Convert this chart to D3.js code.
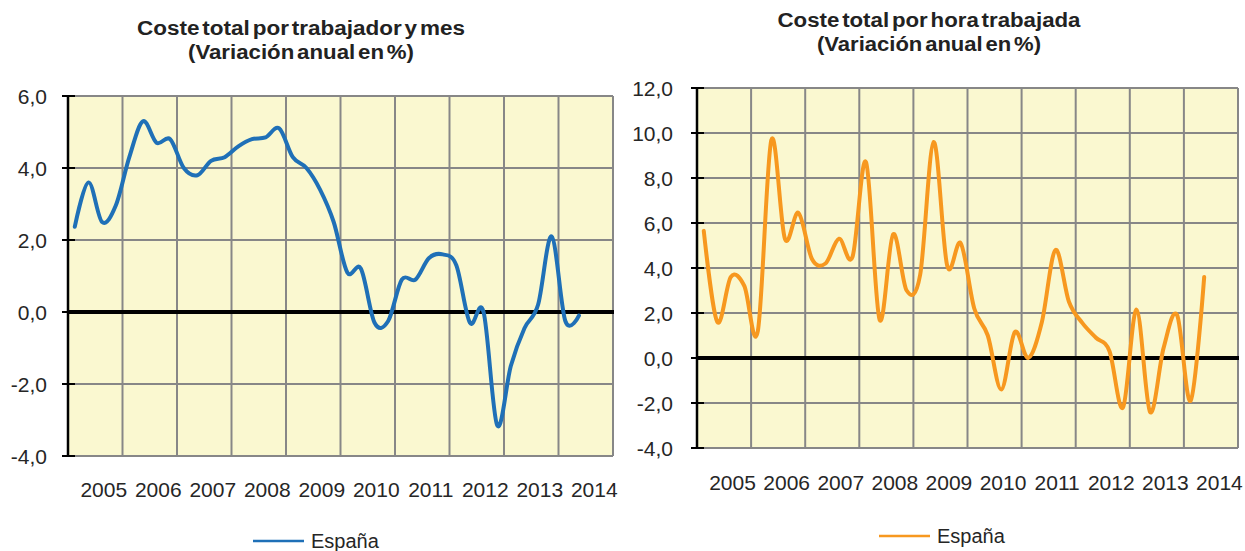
<!DOCTYPE html>
<html lang="es">
<head>
<meta charset="utf-8">
<title>Coste laboral – variación anual</title>
<script src="https://cdn.jsdelivr.net/npm/d3@7"></script>
<style>
  html, body { margin: 0; padding: 0; background: #ffffff; }
  svg { display: block; font-family: "Liberation Sans", Arial, sans-serif; }
</style>
</head>
<body>
<svg id="chart" width="1245" height="551"></svg>
<script>
// Quarterly series, 2005 Q1 onwards (annual % change)
const yearLabels = ["2005", "2006", "2007", "2008", "2009", "2010", "2011", "2012", "2013", "2014"];
const quartersPerYear = 4;

const costePorTrabajador = [
  2.37, 3.6, 2.5, 2.95, 4.3, 5.3, 4.7, 4.8, 4.0, 3.8,
  4.2, 4.3, 4.6, 4.8, 4.85, 5.1, 4.3, 4.0, 3.4, 2.5,
  1.1, 1.2, -0.3, -0.25, 0.9, 0.9, 1.5, 1.6, 1.3, -0.3,
  0.0, -3.15, -1.5, -0.45, 0.2, 2.1, -0.25, -0.1
];

const costePorHora = [
  5.65, 1.6, 3.6, 3.2, 1.2, 9.7, 5.3, 6.45, 4.4, 4.2,
  5.3, 4.5, 8.7, 1.7, 5.5, 3.0, 3.7, 9.6, 4.1, 5.1,
  2.2, 1.0, -1.4, 1.15, 0.0, 1.6, 4.8, 2.5, 1.55, 0.9,
  0.3, -2.2, 2.15, -2.4, 0.45, 1.9, -1.9, 3.6
];

const ticksTrabajador = [-4, -2, 0, 2, 4, 6];
const ticksHora = [-4, -2, 0, 2, 4, 6, 8, 10, 12];

const seriesName = "España";

const svg = d3.select("#chart");
// one decimal, comma separator, plain hyphen for negatives
const fmt = v => d3.format(".1f")(v).replace(".", ",").replace("\u2212", "-");

function drawPanel(cfg) {
  const g = svg.append("g");
  const nCats = yearLabels.length * quartersPerYear;
  const x = d3.scaleLinear().domain([0, nCats]).range([cfg.left, cfg.right]);
  const y = d3.scaleLinear().domain(d3.extent(cfg.ticks)).range([cfg.bottom, cfg.top]);

  // plot background
  g.append("rect")
    .attr("x", cfg.left).attr("y", cfg.top)
    .attr("width", cfg.right - cfg.left).attr("height", cfg.bottom - cfg.top)
    .attr("fill", "#faf8d0");

  // horizontal gridlines
  g.append("g").selectAll("line")
    .data(cfg.ticks.filter(t => t !== 0))
    .join("line")
    .attr("x1", cfg.left).attr("x2", cfg.right)
    .attr("y1", d => y(d)).attr("y2", d => y(d))
    .attr("stroke", "#878787").attr("stroke-width", 2);

  // vertical gridlines, one per year
  g.append("g").selectAll("line")
    .data(d3.range(1, yearLabels.length + 1).map(k => k * quartersPerYear))
    .join("line")
    .attr("x1", d => x(d)).attr("x2", d => x(d))
    .attr("y1", cfg.top).attr("y2", cfg.bottom)
    .attr("stroke", "#878787").attr("stroke-width", 2);

  // zero line
  g.append("line")
    .attr("x1", cfg.left).attr("x2", cfg.right + 1)
    .attr("y1", y(0)).attr("y2", y(0))
    .attr("stroke", "#000").attr("stroke-width", 4);

  // value axis
  g.append("line")
    .attr("x1", cfg.left).attr("x2", cfg.left)
    .attr("y1", cfg.top).attr("y2", cfg.bottom + 1)
    .attr("stroke", "#000").attr("stroke-width", 2.5);

  g.append("g").selectAll("line")
    .data(cfg.ticks)
    .join("line")
    .attr("x1", cfg.left - 6).attr("x2", cfg.left + 7)
    .attr("y1", d => y(d)).attr("y2", d => y(d))
    .attr("stroke", "#000").attr("stroke-width", 2);

  g.append("g").selectAll("text")
    .data(cfg.ticks)
    .join("text")
    .attr("x", cfg.left - cfg.tickGap)
    .attr("y", d => y(d))
    .attr("dy", "0.36em")
    .attr("text-anchor", "end")
    .attr("font-size", 21)
    .attr("fill", "#262626")
    .text(fmt);

  // category labels
  g.append("g").selectAll("text")
    .data(yearLabels)
    .join("text")
    .attr("x", (d, i) => x(i * quartersPerYear + quartersPerYear / 2) + 8.5)
    .attr("y", cfg.bottom + cfg.labelGap)
    .attr("text-anchor", "middle")
    .attr("font-size", 21)
    .attr("fill", "#262626")
    .text(d => d);

  // series line
  const line = d3.line()
    .x((d, i) => x(i + 0.5))
    .y(d => y(d))
    .curve(d3.curveCardinal.tension(0));

  g.append("path")
    .datum(cfg.values)
    .attr("d", line)
    .attr("fill", "none")
    .attr("stroke", cfg.color)
    .attr("stroke-width", 4)
    .attr("stroke-linejoin", "round")
    .attr("stroke-linecap", "round");

  // title (two lines, tightly set)
  const title = g.append("text")
    .attr("text-anchor", "middle")
    .attr("font-weight", "bold")
    .attr("font-size", 20)
    .attr("word-spacing", -3)
    .attr("fill", "#222");
  cfg.title.forEach((t, i) => {
    title.append("tspan")
      .attr("x", cfg.titleX)
      .attr("y", cfg.titleY + i * 23.5)
      .attr("textLength", cfg.titleWidths[i])
      .attr("lengthAdjust", "spacingAndGlyphs")
      .text(t);
  });

  // legend
  g.append("line")
    .attr("x1", cfg.legendX).attr("x2", cfg.legendX + 51)
    .attr("y1", cfg.legendY).attr("y2", cfg.legendY)
    .attr("stroke", cfg.color).attr("stroke-width", 2.5);
  g.append("text")
    .attr("x", cfg.legendX + 58)
    .attr("y", cfg.legendY)
    .attr("dy", "0.36em")
    .attr("font-size", 20)
    .attr("fill", "#262626")
    .text(seriesName);
}

drawPanel({
  values: costePorTrabajador,
  ticks: ticksTrabajador,
  color: "#1f70b7",
  left: 68, right: 613, top: 96, bottom: 456,
  tickGap: 21, labelGap: 41,
  title: ["Coste total por trabajador y mes", "(Variación anual en %)"],
  titleWidths: [328, 226],
  titleX: 301, titleY: 35,
  legendX: 253, legendY: 541
});

drawPanel({
  values: costePorHora,
  ticks: ticksHora,
  color: "#f7981f",
  left: 697, right: 1238, top: 88, bottom: 448,
  tickGap: 24, labelGap: 42,
  title: ["Coste total por hora trabajada", "(Variación anual en %)"],
  titleWidths: [303, 224],
  titleX: 929, titleY: 27,
  legendX: 879, legendY: 536
});
</script>
</body>
</html>
